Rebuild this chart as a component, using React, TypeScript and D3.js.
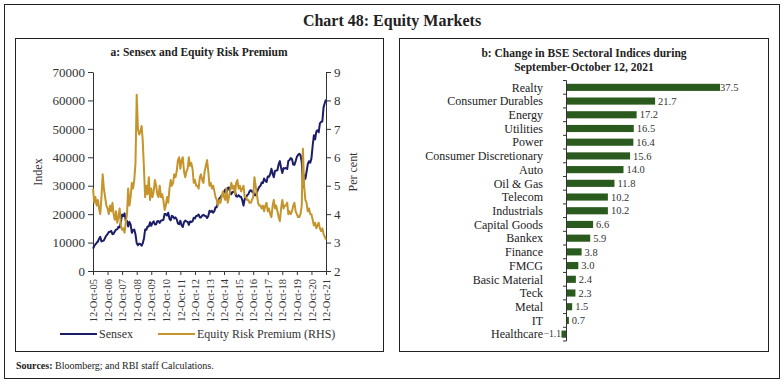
import React, { useEffect, useRef } from "react"
import * as d3 from "d3"

// monthly, 12-Oct-05 .. 12-Oct-21
const sensex = [
  7892, 8788, 9398,
  9920, 10370, 11280, 12043, 10399, 10609, 10744, 11699, 12454, 12962, 13696, 13787,
  14091, 12938, 13072, 13872, 14544, 14651, 15551, 15319, 17291, 19838, 19363, 20287,
  17649, 17579, 15644, 17287, 16416, 13462, 14356, 14565, 12860, 9788, 9093, 9647,
  9424, 8892, 9709, 11403, 14625, 14494, 15670, 15667, 17127, 15896, 16926, 17465,
  16358, 16430, 17528, 17559, 16945, 17701, 17868, 17971, 20069, 20032, 19521, 20509,
  18328, 17823, 19445, 19136, 18503, 18846, 18197, 16677, 16454, 17705, 16123, 15455,
  17194, 17753, 17404, 17319, 16219, 17430, 17236, 17430, 18763, 18505, 19340, 19427,
  19895, 18862, 18836, 19504, 19760, 19396, 19346, 18620, 19380, 21165, 20792, 21171,
  20514, 21120, 22386, 22418, 24217, 25414, 25895, 26638, 26631, 27866, 28694, 27499,
  29183, 29362, 27957, 27011, 27828, 27781, 28115, 26283, 26155, 26657, 26146, 26118,
  24871, 23002, 25342, 25607, 26668, 26999, 28052, 28452, 27866, 27930, 26653, 26626,
  27656, 28743, 29621, 29918, 31146, 30922, 32515, 31730, 31284, 33213, 33149, 34057,
  35965, 34184, 32969, 35160, 35322, 35423, 37607, 38645, 36227, 34442, 36194, 36068,
  36257, 35867, 38673, 39032, 39714, 39395, 37481, 37333, 38667, 40129, 40794, 41254,
  40723, 38297, 29468, 33718, 32424, 34916, 37607, 38628, 38068, 39614, 44150, 47751,
  46286, 49100, 49509, 48782, 51937, 52483, 52587, 57552, 59126, 60284
]

const erp = [
  4.9, 4.4, 4.6,
  4.3, 4.5, 4.2, 4.0, 4.6, 5.4, 4.9, 4.6, 4.3, 4.2, 4.0, 4.3,
  4.1, 4.4, 4.0, 3.8, 4.1, 3.7, 3.9, 4.2, 3.6, 3.45, 3.5, 3.35,
  3.7, 4.0, 4.9, 4.3, 4.6, 5.1, 4.9, 5.2, 5.8, 8.2, 7.0, 6.8,
  6.9, 7.1, 6.6, 5.6, 4.6, 5.0, 4.7, 5.3, 4.5, 4.9, 4.6, 4.8,
  5.2, 5.0, 4.7, 4.6, 5.0, 4.6, 4.7, 4.5, 4.15, 4.3, 4.6, 4.4,
  4.9, 5.2, 5.0, 5.1, 5.4, 5.3, 5.5, 5.9, 6.0, 5.6, 5.9, 6.0,
  5.5, 5.3, 5.5, 5.6, 6.0, 5.7, 5.8, 5.6, 5.1, 5.2, 5.0, 5.0,
  4.9, 5.3, 5.4, 5.2, 5.1, 5.5, 5.7, 5.9, 5.5, 5.0, 5.1, 4.9,
  5.0, 4.8, 4.6, 4.5, 4.3, 4.5, 4.4, 4.6, 4.8, 4.6, 4.5, 4.9,
  4.4, 4.6, 4.8, 5.1, 4.9, 5.0, 4.7, 5.1, 5.2, 4.9, 5.0, 4.8,
  4.9, 5.0, 4.6, 4.6, 4.5, 4.5, 4.4, 4.4, 4.5, 4.6, 5.3, 5.0,
  4.7, 4.4, 4.3, 4.3, 4.2, 4.3, 4.1, 4.3, 4.4, 4.1, 4.2, 4.0,
  3.9, 4.3, 4.5, 4.2, 4.3, 4.1, 3.9, 3.75, 4.2, 4.5, 4.2, 4.3,
  4.3, 4.4, 4.0, 4.1, 4.0, 4.1, 4.3, 4.4, 4.1, 4.0, 3.9, 3.9,
  4.0, 4.3, 6.3, 5.0, 4.5, 4.4, 4.1, 4.2, 4.0, 4.0, 3.8, 3.6,
  3.7, 3.5, 3.6, 3.7, 3.5, 3.4, 3.5, 3.3, 3.2, 3.1
]

const tickYears = [2005, 2006, 2007, 2008, 2009, 2010, 2011, 2012, 2013, 2014, 2015, 2016, 2017, 2018, 2019, 2020, 2021]

const sectors = [
  "Realty", "Consumer Durables", "Energy", "Utilities", "Power", "Consumer Discretionary",
  "Auto", "Oil & Gas", "Telecom", "Industrials", "Capital Goods", "Bankex", "Finance",
  "FMCG", "Basic Material", "Teck", "Metal", "IT", "Healthcare"
]
const sectorChange = [37.5, 21.7, 17.2, 16.5, 16.4, 15.6, 14.0, 11.8, 10.2, 10.2, 6.6, 5.9, 3.8, 3.0, 2.4, 2.3, 1.5, 0.7, -1.1]

const NAVY = "#1c1d68"
const GOLD = "#c5942a"
const GREEN = "#2b5a1e"
const FONT = "'Liberation Serif', 'Times New Roman', serif"

export default function App() {
  const ref = useRef<SVGSVGElement>(null)

  useEffect(() => {
    document.body.style.margin = "0"
    const svg = d3.select(ref.current)
    svg.selectAll("*").remove()
    svg.attr("font-family", FONT)

    // frames
    svg.append("rect").attr("x", 4.5).attr("y", 4.5).attr("width", 775).attr("height", 374)
      .attr("fill", "#fff").attr("stroke", "#222").attr("stroke-width", 1)
    svg.append("rect").attr("x", 15.5).attr("y", 38.5).attr("width", 368).attr("height", 313)
      .attr("fill", "none").attr("stroke", "#222").attr("stroke-width", 1)
    svg.append("rect").attr("x", 399.5).attr("y", 38.5).attr("width", 369).attr("height", 313)
      .attr("fill", "none").attr("stroke", "#222").attr("stroke-width", 1)

    svg.append("text").attr("x", 392).attr("y", 26).attr("text-anchor", "middle")
      .attr("font-size", 16).attr("font-weight", "bold").attr("fill", "#222")
      .text("Chart 48: Equity Markets")

    const src = svg.append("text").attr("x", 16).attr("y", 369).attr("font-size", 10).attr("fill", "#222")
    src.append("tspan").attr("font-weight", "bold").text("Sources:")
    src.append("tspan").text(" Bloomberg; and RBI staff Calculations.")

    // ---- panel a ----
    const a = svg.append("g")
    a.append("text").attr("x", 199).attr("y", 56).attr("text-anchor", "middle")
      .attr("font-size", 11.5).attr("font-weight", "bold").attr("fill", "#222")
      .text("a: Sensex and Equity Risk Premium")

    const dates = sensex.map((_, i) => new Date(2005, 9 + i, 12))
    const x = d3.scaleTime().domain([new Date(2005, 9, 12), new Date(2021, 9, 12)]).range([93, 326])
    const yL = d3.scaleLinear().domain([0, 70000]).range([271, 72])
    const yR = d3.scaleLinear().domain([2, 9]).range([271, 72])

    const styleAxis = (g: any, size: number) => {
      g.select(".domain").attr("stroke", "#333")
      g.selectAll(".tick line").attr("stroke", "#333")
      g.selectAll("text").attr("font-size", size).attr("font-family", FONT).attr("fill", "#333")
    }

    const gl = a.append("g").attr("transform", "translate(93,0)")
      .call(d3.axisLeft(yL).tickValues(d3.range(0, 70001, 10000)).tickFormat(d3.format("d")).tickSize(5).tickSizeOuter(0))
    styleAxis(gl, 13)
    const gr = a.append("g").attr("transform", "translate(326,0)")
      .call(d3.axisRight(yR).tickValues(d3.range(2, 10, 1)).tickFormat(d3.format("d")).tickSize(5).tickSizeOuter(0))
    styleAxis(gr, 13)
    const gx = a.append("g").attr("transform", "translate(0,271)")
      .call(d3.axisBottom(x).tickValues(tickYears.map(y => new Date(y, 9, 12)))
        .tickFormat(d3.timeFormat("%d-%b-%y") as any).tickSize(4).tickSizeOuter(0))
    styleAxis(gx, 10.5)
    gx.selectAll("text").attr("transform", "rotate(-90)").attr("text-anchor", "end")
      .attr("x", -8).attr("y", 0).attr("dy", "0.35em")

    a.append("text").attr("transform", "translate(42,172) rotate(-90)").attr("text-anchor", "middle")
      .attr("font-size", 12).attr("fill", "#333").text("Index")
    a.append("text").attr("transform", "translate(357,172) rotate(-90)").attr("text-anchor", "middle")
      .attr("font-size", 12).attr("fill", "#333").text("Per cent")

    const lineL = d3.line<number>().x((d, i) => x(dates[i])).y(d => yL(d))
    const lineR = d3.line<number>().x((d, i) => x(dates[i])).y(d => yR(d))
    a.append("path").datum(sensex).attr("d", lineL).attr("fill", "none")
      .attr("stroke", NAVY).attr("stroke-width", 2).attr("stroke-linejoin", "round")
    a.append("path").datum(erp).attr("d", lineR).attr("fill", "none")
      .attr("stroke", GOLD).attr("stroke-width", 2).attr("stroke-linejoin", "round")

    // legend
    const legend = [
      { label: "Sensex", color: NAVY, x: 60 },
      { label: "Equity Risk Premium (RHS)", color: GOLD, x: 158 }
    ]
    legend.forEach(l => {
      a.append("line").attr("x1", l.x).attr("x2", l.x + 37).attr("y1", 334).attr("y2", 334)
        .attr("stroke", l.color).attr("stroke-width", 2)
      a.append("text").attr("x", l.x + 39).attr("y", 338).attr("font-size", 12).attr("fill", "#333").text(l.label)
    })

    // ---- panel b ----
    const b = svg.append("g")
    b.append("text").attr("x", 584).attr("y", 57).attr("text-anchor", "middle")
      .attr("font-size", 11.5).attr("font-weight", "bold").attr("fill", "#222")
      .text("b: Change in BSE Sectoral Indices during")
    b.append("text").attr("x", 584).attr("y", 70.5).attr("text-anchor", "middle")
      .attr("font-size", 11.5).attr("font-weight", "bold").attr("fill", "#222")
      .text("September-October 12, 2021")

    const yB = d3.scaleBand<string>().domain(sectors).range([80.5, 341]).paddingInner(0.48).paddingOuter(0.24)
    const xB = d3.scaleLinear().domain([0, 37.5]).range([566, 720])
    const step = yB.step()
    const top = yB.range()[0]

    b.selectAll("rect.bar").data(sectors).enter().append("rect").attr("class", "bar")
      .attr("x", (d, i) => xB(Math.min(0, sectorChange[i])))
      .attr("y", d => yB(d) as number)
      .attr("width", (d, i) => Math.abs(xB(sectorChange[i]) - xB(0)))
      .attr("height", yB.bandwidth())
      .attr("fill", GREEN)

    // axis at zero with ticks between categories
    b.append("line").attr("x1", xB(0) + 0.5).attr("x2", xB(0) + 0.5).attr("y1", top).attr("y2", top + step * sectors.length)
      .attr("stroke", "#333")
    d3.range(sectors.length + 1).forEach(k => {
      b.append("line").attr("x1", xB(0) - 3).attr("x2", xB(0) + 0.5)
        .attr("y1", top + k * step).attr("y2", top + k * step).attr("stroke", "#333")
    })

    b.selectAll("text.cat").data(sectors).enter().append("text").attr("class", "cat")
      .attr("x", 543).attr("y", d => (yB(d) as number) + yB.bandwidth() / 2).attr("dy", "0.35em")
      .attr("text-anchor", "end").attr("font-size", 12).attr("fill", "#222").text(d => d)

    b.selectAll("text.val").data(sectorChange).enter().append("text").attr("class", "val")
      .attr("x", v => v < 0 ? xB(v) - 0.5 : xB(v) + (v > 30 ? 0 : 3))
      .attr("y", (v, i) => (yB(sectors[i]) as number) + yB.bandwidth() / 2).attr("dy", "0.35em")
      .attr("text-anchor", v => v < 0 ? "end" : "start")
      .attr("font-size", v => v < 0 ? 9.5 : 10.5).attr("fill", "#333").text(v => d3.format(".1f")(v))
  }, [])

  return <svg ref={ref} width={784} height={384} style={{ display: "block" }} />
}
